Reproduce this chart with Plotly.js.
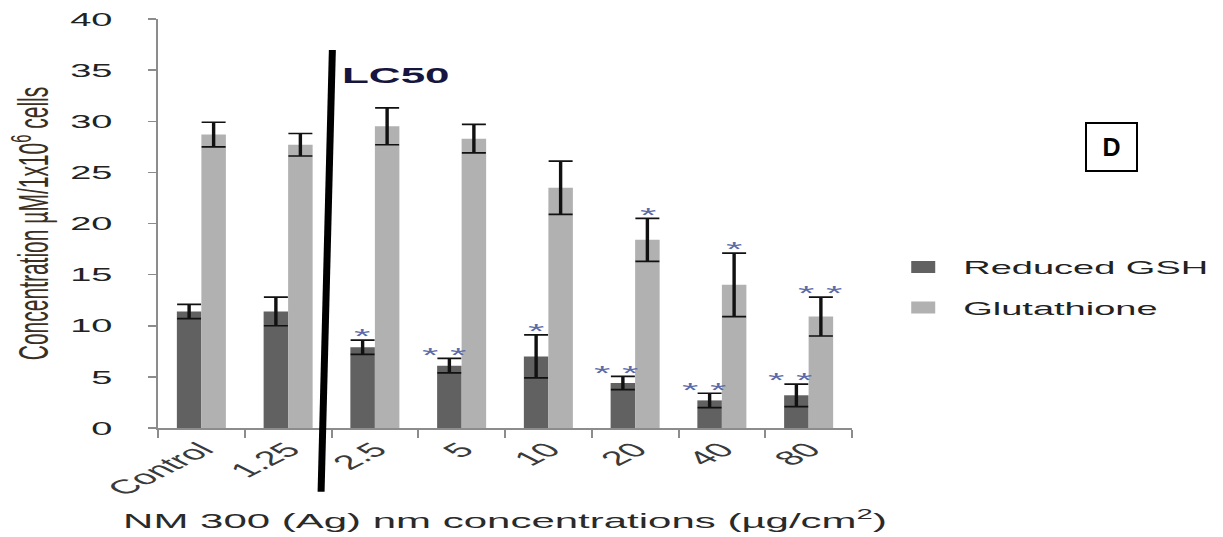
<!DOCTYPE html>
<html>
<head>
<meta charset="utf-8">
<script src="https://cdn.plot.ly/plotly-3.0.1.min.js"></script>
<style>
  html, body { margin: 0; padding: 0; background: #ffffff; overflow: hidden; }
  #wrap { position: relative; width: 1223px; height: 537px; }
  #chart { position: absolute; left: 0; top: 0; width: 611.5px; height: 537px;
           transform: scaleX(2); transform-origin: 0 0; }
  #overlay { position: absolute; left: 0; top: 0; width: 1223px; height: 537px; pointer-events: none; }
</style>
</head>
<body>
<div id="wrap">
  <div id="chart"></div>
  <div id="overlay"></div>
</div>
<script>
// ---- data ----
const categories = ['Control', '1.25', '2.5', '5', '10', '20', '40', '80'];
const gshValues  = [11.4, 11.4, 7.9, 6.1, 7.0, 4.4, 2.7, 3.2];
const gshErrors  = [0.7, 1.4, 0.7, 0.7, 2.1, 0.65, 0.7, 1.1];
const glutValues = [28.7, 27.7, 29.5, 28.3, 23.5, 18.4, 14.0, 10.9];
const glutErrors = [1.2, 1.1, 1.8, 1.4, 2.6, 2.1, 3.1, 1.9];
const gshStars   = ['', '', '*', '* *', '*', '* *', '* *', '* *'];
const glutStars  = ['', '', '', '', '', '*', '*', '* *'];
const seriesNames = ['Reduced GSH', 'Glutathione'];
const yTickValues = [0, 5, 10, 15, 20, 25, 30, 35, 40];
const lc50Label = 'LC50';
const panelLabel = 'D';

// ---- styling ----
const FONT = 'Liberation Sans, Arial, sans-serif';
const darkGrey = '#616161';
const lightGrey = '#b1b1b1';
const axisGrey = '#8c8c8c';
const starColor = '#5a6aa8';

const traces = [
  {
    type: 'bar', name: seriesNames[0], x: categories, y: gshValues,
    marker: { color: darkGrey, line: { width: 0 } },
    error_y: { type: 'data', array: gshErrors, visible: true, color: '#111', thickness: 1.7, width: 6 },
    legendgroup: 'a'
  },
  {
    type: 'bar', name: seriesNames[1], x: categories, y: glutValues,
    marker: { color: lightGrey, line: { width: 0 } },
    error_y: { type: 'data', array: glutErrors, visible: true, color: '#111', thickness: 1.7, width: 6 },
    legendgroup: 'b'
  }
];

const annotations = [];
const barHalf = 6.1; // unscaled px offset of each bar centre from category centre
categories.forEach((c, i) => {
  if (gshStars[i]) {
    annotations.push({
      xref: 'x', yref: 'y', x: i, y: gshValues[i] + gshErrors[i] + 0.9,
      text: gshStars[i], showarrow: false, yanchor: 'middle', xanchor: 'center',
      xshift: -barHalf - (gshStars[i].length > 1 ? 3 : 0), yshift: -5,
      font: { family: FONT, size: 21, color: starColor }
    });
  }
  if (glutStars[i]) {
    annotations.push({
      xref: 'x', yref: 'y', x: i, y: glutValues[i] + glutErrors[i] + 0.9,
      text: glutStars[i], showarrow: false, yanchor: 'middle', xanchor: 'center',
      xshift: barHalf, yshift: -5,
      font: { family: FONT, size: 21, color: starColor }
    });
  }
});
annotations.push({
  xref: 'x', yref: 'paper', x: 2.25, y: 0.861, text: '<b>' + lc50Label + '</b>',
  showarrow: false, xanchor: 'center', yanchor: 'middle',
  font: { family: FONT, size: 22, color: '#15153f' }
});

const layout = {
  width: 611.5, height: 537,
  margin: { l: 78.5, r: 186, t: 19, b: 109, pad: 0, autoexpand: false },
  paper_bgcolor: '#ffffff', plot_bgcolor: '#ffffff',
  barmode: 'group', bargap: 0.435, bargroupgap: 0,
  showlegend: true,
  legend: {
    x: 1.045, xanchor: 'left', y: 0.44, yanchor: 'top',
    traceorder: 'grouped', tracegroupgap: 13,
    font: { family: FONT, size: 19, color: '#222' },
    bgcolor: 'rgba(0,0,0,0)'
  },
  xaxis: {
    type: 'category', range: [-0.5, categories.length - 0.5], autorange: false,
    showgrid: false, zeroline: false,
    showline: true, linecolor: axisGrey, linewidth: 2,
    ticks: 'outside', tickson: 'boundaries', ticklen: 8, tickwidth: 1, tickcolor: axisGrey,
    tickangle: -45,
    tickfont: { family: FONT, size: 20, color: '#3a3a3a' },
    title: { text: 'NM 300 (Ag) nm concentrations (µg/cm<sup>2</sup>)', standoff: 15,
             font: { family: FONT, size: 21, color: '#2a2a2a' } },
    automargin: false
  },
  yaxis: {
    range: [0, 40], autorange: false, tickvals: yTickValues, showgrid: false, zeroline: false,
    showline: true, linecolor: axisGrey, linewidth: 1,
    ticks: 'outside', ticklen: 4, tickwidth: 1.5, tickcolor: axisGrey,
    ticklabelstandoff: 14,
    tickfont: { family: FONT, size: 19, color: '#222' },
    title: { text: 'Concentration µM/1x10<sup>6</sup> cells', standoff: 4,
             font: { family: FONT, size: 21, color: '#3b2e22' } },
    automargin: false
  },
  shapes: [{
    type: 'line', xref: 'x', yref: 'paper', x0: 1.51, y0: 0.924, x1: 1.38, y1: -0.156,
    line: { color: '#000', width: 3.5 }, layer: 'above'
  }],
  annotations: annotations
};

Plotly.newPlot('chart', traces, layout, { displayModeBar: false, staticPlot: true });

Plotly.newPlot('overlay', [], {
  width: 1223, height: 537, margin: { l: 0, r: 0, t: 0, b: 0 },
  paper_bgcolor: 'rgba(0,0,0,0)', plot_bgcolor: 'rgba(0,0,0,0)',
  xaxis: { visible: false, range: [0, 1] }, yaxis: { visible: false, range: [0, 1] },
  annotations: [{
    xref: 'paper', yref: 'paper', x: 1111.5 / 1223, y: 1 - 147 / 537,
    text: '<b>' + panelLabel + '</b>', showarrow: false, xanchor: 'center', yanchor: 'middle',
    width: 47, height: 44, borderpad: 1, bordercolor: '#000', borderwidth: 2,
    font: { family: FONT, size: 25, color: '#000' }
  }]
}, { displayModeBar: false, staticPlot: true });
</script>
</body>
</html>
